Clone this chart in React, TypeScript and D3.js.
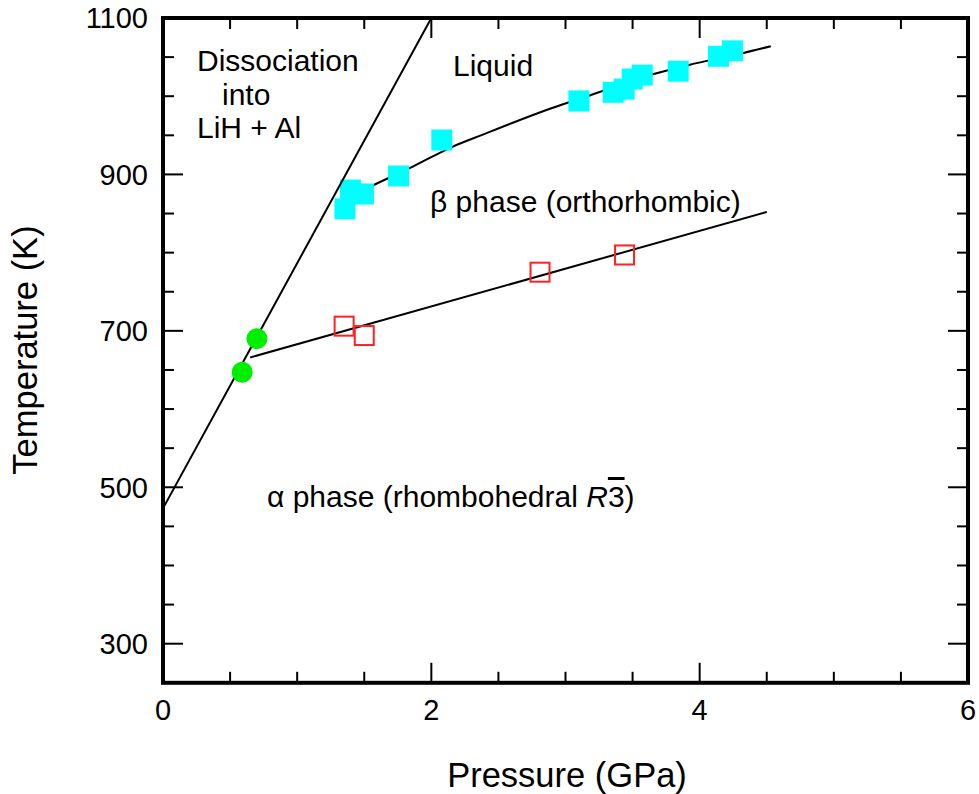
import React from "react";
import * as d3 from "d3";

// ---- data (Pressure GPa, Temperature K) ----
const liquidusBetaPts: [number, number][] = [
  [1.356, 856], [1.397, 880], [1.494, 875], [1.756, 898], [2.078, 944],
  [3.10, 994], [3.355, 1005], [3.437, 1009], [3.497, 1022], [3.572, 1027],
  [3.84, 1032], [4.14, 1051], [4.244, 1058],
];
const alphaBetaPts: [number, number][] = [
  [1.35, 706], [1.50, 694], [2.81, 775], [3.44, 797],
];
const dissocPts: [number, number][] = [
  [0.59, 647], [0.70, 690],
];
const liquidusCurve: [number, number][] = [
  [1.36, 868], [1.565, 886], [1.838, 908], [2.153, 935], [2.37, 950],
  [2.90, 985], [3.18, 1001], [3.65, 1028], [3.92, 1040], [4.32, 1055], [4.53, 1064],
];
const alphaBetaLine: [number, number][] = [[0.65, 666], [4.5, 852]];
const dissocLine: [number, number][] = [[0, 473], [2.0, 1100]];

const xMajor = [0, 2, 4, 6];
const xMinor = [0.5, 1, 1.5, 2.5, 3, 3.5, 4.5, 5, 5.5];
const yMajor = [300, 500, 700, 900, 1100];
const yMinor = [250, 350, 400, 450, 550, 600, 650, 750, 800, 850, 950, 1000, 1050];

const FONT = "'Liberation Sans', Arial, Helvetica, sans-serif";

export default function App() {
  const W = 979, H = 794;
  const L = 163, R = 968, T = 18, B = 682.8;
  const x = d3.scaleLinear().domain([0, 6]).range([L, R]);
  const y = d3.scaleLinear().domain([250, 1100]).range([B, T]);
  const line = d3.line<[number, number]>().x(d => x(d[0])).y(d => y(d[1]));
  const curve = d3.line<[number, number]>().x(d => x(d[0])).y(d => y(d[1])).curve(d3.curveMonotoneX);

  const majLen = 20, minLen = 11;
  const sq = 21;

  return (
    <svg width={W} height={H} style={{ position: "absolute", left: 0, top: 0, background: "#fff" }}
      fontFamily={FONT}>
      <rect x={0} y={0} width={W} height={H} fill="#fff" />
      {/* liquidus curve */}
      <path d={curve(liquidusCurve) || ""} fill="none" stroke="#000" strokeWidth={2} />
      {/* cyan squares */}
      {liquidusBetaPts.map((d, i) => (
        <rect key={"c" + i} x={x(d[0]) - sq / 2} y={y(d[1]) - sq / 2} width={sq} height={sq} fill="#00ffff" />
      ))}
      {/* dissociation line */}
      <path d={line(dissocLine) || ""} fill="none" stroke="#000" strokeWidth={2} />
      {/* alpha-beta line */}
      <path d={line(alphaBetaLine) || ""} fill="none" stroke="#000" strokeWidth={2} />
      {/* red open squares */}
      {alphaBetaPts.map((d, i) => (
        <rect key={"r" + i} x={x(d[0]) - 9.5} y={y(d[1]) - 9.5} width={19} height={19} fill="none" stroke="#ff2020" strokeWidth={2} />
      ))}
      {/* green circles */}
      {dissocPts.map((d, i) => (
        <circle key={"g" + i} cx={x(d[0])} cy={y(d[1])} r={10.5} fill="#00ee00" />
      ))}

      {/* ticks */}
      {xMajor.map(v => (
        <g key={"xm" + v}>
          <line x1={x(v)} x2={x(v)} y1={B} y2={B - majLen} stroke="#000" strokeWidth={2} />
          <line x1={x(v)} x2={x(v)} y1={T} y2={T + majLen} stroke="#000" strokeWidth={2} />
          <text x={x(v)} y={720} fontSize={29} textAnchor="middle">{v}</text>
        </g>
      ))}
      {xMinor.map(v => (
        <g key={"xn" + v}>
          <line x1={x(v)} x2={x(v)} y1={B} y2={B - minLen} stroke="#000" strokeWidth={2} />
          <line x1={x(v)} x2={x(v)} y1={T} y2={T + minLen} stroke="#000" strokeWidth={2} />
        </g>
      ))}
      {yMajor.map(v => (
        <g key={"ym" + v}>
          <line x1={L} x2={L + majLen} y1={y(v)} y2={y(v)} stroke="#000" strokeWidth={2} />
          <line x1={R} x2={R - majLen} y1={y(v)} y2={y(v)} stroke="#000" strokeWidth={2} />
          <text x={148} y={y(v)} dy="0.36em" fontSize={29} textAnchor="end">{v}</text>
        </g>
      ))}
      {yMinor.map(v => (
        <g key={"yn" + v}>
          <line x1={L} x2={L + minLen} y1={y(v)} y2={y(v)} stroke="#000" strokeWidth={2} />
          <line x1={R} x2={R - minLen} y1={y(v)} y2={y(v)} stroke="#000" strokeWidth={2} />
        </g>
      ))}

      {/* frame */}
      <rect x={L} y={T} width={R - L} height={B - T} fill="none" stroke="#000" strokeWidth={4} />

      {/* axis titles */}
      <text x={567} y={787} fontSize={34.5} textAnchor="middle">Pressure (GPa)</text>
      <text transform="translate(37,350) rotate(-90)" fontSize={34.5} textAnchor="middle">Temperature (K)</text>

      {/* annotations */}
      <text x={197} y={71} fontSize={30}>Dissociation</text>
      <text x={222} y={105} fontSize={30}>into</text>
      <text x={197} y={138} fontSize={30}>LiH + Al</text>
      <text x={453} y={76} fontSize={30}>Liquid</text>
      <text x={430} y={212} fontSize={30}>β phase (orthorhombic)</text>
      <text x={267} y={507} fontSize={30}>
        α phase (rhombohedral <tspan fontStyle="italic">R</tspan>
        <tspan style={{ textDecoration: "overline" }}>3</tspan>)
      </text>
    </svg>
  );
}
